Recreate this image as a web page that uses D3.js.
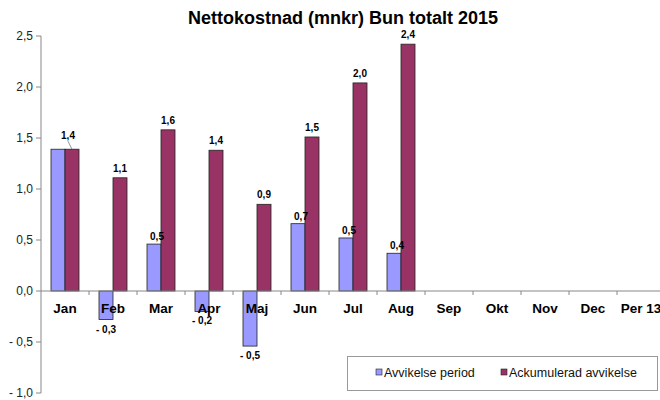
<!DOCTYPE html>
<html><head><meta charset="utf-8">
<script src="https://cdn.jsdelivr.net/npm/d3@7"></script>
<style>body{margin:0;background:#fff}svg{font-family:Arial,"Liberation Sans",sans-serif}</style>
</head><body>
<svg id="c" width="660" height="400"></svg>
<script>
const categories = ["Jan","Feb","Mar","Apr","Maj","Jun","Jul","Aug","Sep","Okt","Nov","Dec","Per 13"];
const avvikelsePeriod = [1.39,-0.28,0.46,-0.20,-0.54,0.66,0.52,0.37,null,null,null,null,null];
const ackumulerad = [1.39,1.11,1.58,1.38,0.85,1.51,2.04,2.42,null,null,null,null,null];
const periodLabels = [null,"- 0,3","0,5","- 0,2","- 0,5","0,7","0,5","0,4",null,null,null,null,null];
const ackLabels = ["1,4","1,1","1,6","1,4","0,9","1,5","2,0","2,4",null,null,null,null,null];
const yTicks = [-1.0,-0.5,0,0.5,1.0,1.5,2.0,2.5];
const seriesNames = ["Avvikelse period","Ackumulerad avvikelse"];
const colors = ["#9999FF","#993366"];

const svg = d3.select("#c");
const x = d3.scaleBand().domain(categories).range([41,665]);
const y = d3.scaleLinear().domain([-1,2.5]).range([393,36]);
const bw = 14;
const fmt = v => { const s = d3.format(".1f")(Math.abs(v)).replace(".", ","); return v < 0 ? "- " + s : s; };

svg.append("text").attr("x",343).attr("y",24).attr("text-anchor","middle")
  .attr("font-weight","bold").attr("font-size",18).text("Nettokostnad (mnkr) Bun totalt 2015");

// y axis
const ya = svg.append("g");
ya.append("line").attr("x1",41).attr("x2",41).attr("y1",y(2.5)).attr("y2",y(-1)).attr("stroke","#888");
yTicks.forEach(t=>{
  ya.append("line").attr("x1",36).attr("x2",41).attr("y1",y(t)).attr("y2",y(t)).attr("stroke","#888");
  ya.append("text").attr("x",33).attr("y",y(t)+4).attr("text-anchor","end").attr("font-size",12).attr("fill","#222").text(fmt(t));
});

// bars
categories.forEach((c,i)=>{
  const cx = x(c) + x.bandwidth()/2;
  [avvikelsePeriod[i], ackumulerad[i]].forEach((v,k)=>{
    if (v==null) return;
    const x0 = k===0 ? cx-bw : cx;
    svg.append("rect").attr("x",x0).attr("width",bw)
      .attr("y",Math.min(y(v),y(0))).attr("height",Math.abs(y(v)-y(0)))
      .attr("fill",colors[k]).attr("stroke","#222").attr("stroke-width",0.8);
  });
});

// x axis
svg.append("line").attr("x1",41).attr("x2",660).attr("y1",y(0)).attr("y2",y(0)).attr("stroke","#888");
categories.forEach((c,i)=>{
  const bx = x(c)+x.bandwidth();
  svg.append("line").attr("x1",bx).attr("x2",bx).attr("y1",y(0)).attr("y2",y(0)+4).attr("stroke","#888");
});
categories.forEach(c=>{
  svg.append("text").attr("x",x(c)+x.bandwidth()/2).attr("y",y(0)+22).attr("text-anchor","middle")
    .attr("font-weight","bold").attr("font-size",13.5).text(c);
});

// data labels
categories.forEach((c,i)=>{
  const cx = x(c) + x.bandwidth()/2;
  if (ackLabels[i]) {
    const lx = i===0 ? cx+3 : cx+bw/2;
    const ly = i===0 ? y(ackumulerad[i])-10 : y(ackumulerad[i])-6;
    svg.append("text").attr("x",lx).attr("y",ly).attr("text-anchor","middle")
      .attr("font-weight","bold").attr("font-size",10).text(ackLabels[i]);
    if (i===0) svg.append("line").attr("x1",cx+3).attr("y1",ly+2).attr("x2",cx+7).attr("y2",y(ackumulerad[i])).attr("stroke","#666").attr("stroke-width",0.7);
  }
  if (periodLabels[i]) {
    const v = avvikelsePeriod[i];
    const lx = cx - bw/2 + (v<0 ? 0 : 3);
    const ly = v<0 ? y(v)+13 : y(v)-4;
    svg.append("text").attr("x",lx).attr("y",ly).attr("text-anchor","middle")
      .attr("font-weight","bold").attr("font-size",10).text(periodLabels[i]);
  }
});

// legend
svg.append("rect").attr("x",347.5).attr("y",356.5).attr("width",310).attr("height",34).attr("fill","#fff").attr("stroke","#999");
const lg = [[376,seriesNames[0]],[501,seriesNames[1]]];
lg.forEach(([lx,t],k)=>{
  svg.append("rect").attr("x",lx).attr("y",369).attr("width",6).attr("height",6).attr("fill",colors[k]).attr("stroke","#222").attr("stroke-width",0.6);
  svg.append("text").attr("x",lx+8).attr("y",377).attr("font-size",12.5).attr("fill","#111").text(t);
});
</script>
</body></html>
